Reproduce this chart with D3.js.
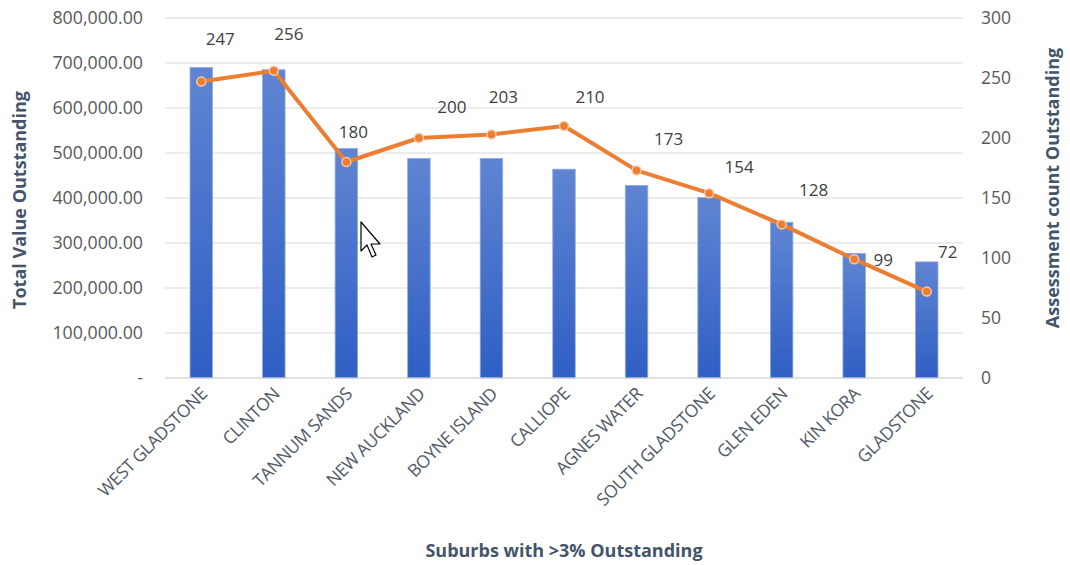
<!DOCTYPE html>
<html><head><meta charset="utf-8">
<script src="https://cdn.jsdelivr.net/npm/d3@7"></script>
<style>
body{margin:0;background:#fff;}
svg, svg text{font-family:"Open Sans","Liberation Sans",sans-serif;}
</style></head>
<body><svg id="c" width="1070" height="565"></svg>
<script>
const categories = ["WEST GLADSTONE","CLINTON","TANNUM SANDS","NEW AUCKLAND","BOYNE ISLAND","CALLIOPE","AGNES WATER","SOUTH GLADSTONE","GLEN EDEN","KIN KORA","GLADSTONE"];
const totalValue = [690000,685000,510000,488000,488000,464000,428000,401000,346000,277000,258000];
const assessCount = [247,256,180,200,203,210,173,154,128,99,72];
const leftTicks = [0,100000,200000,300000,400000,500000,600000,700000,800000];
const rightTicks = [0,50,100,150,200,250,300];
const labelOffsets = [[19,-43],[15,-37],[7,-30],[33,-31],[12,-37],[26,-29],[32,-31],[30,-26],[32,-34],[29,1],[21,-40]];

const svg = d3.select("#c");
const m = {l:165, r:963, t:18, b:378};
const x = d3.scaleBand().domain(categories).range([m.l, m.r]).paddingInner(0.69).paddingOuter(0.345);
const yL = d3.scaleLinear().domain([0,800000]).range([m.b, m.t]);
const yR = d3.scaleLinear().domain([0,300]).range([m.b, m.t]);
const cx = d => x(d) + x.bandwidth()/2;

const defs = svg.append("defs");
const g = defs.append("linearGradient").attr("id","bg").attr("x1",0).attr("y1",0).attr("x2",0).attr("y2",1);
g.append("stop").attr("offset","0%").attr("stop-color","#5f84d2");
g.append("stop").attr("offset","100%").attr("stop-color","#2f5fc4");

// gridlines
svg.append("g").selectAll("line").data(leftTicks).join("line")
  .attr("x1",m.l).attr("x2",m.r).attr("y1",d=>yL(d)).attr("y2",d=>yL(d))
  .attr("stroke","#d9d9d9").attr("stroke-width",1);

// left axis
const fmt = d => d===0 ? "-" : d3.format(",.2f")(d);
const la = svg.append("g").attr("transform",`translate(${m.l-22},0)`)
  .call(d3.axisLeft(yL).tickValues(leftTicks).tickFormat(fmt).tickSize(0).tickPadding(0));
la.attr("font-family",null);
la.select(".domain").remove();
la.selectAll("text").attr("fill","#595959").style("font-size","17.8px").attr("dy","0.32em");

const ra = svg.append("g").attr("transform",`translate(${m.r+18},0)`)
  .call(d3.axisRight(yR).tickValues(rightTicks).tickSize(0).tickPadding(0));
ra.attr("font-family",null);
ra.select(".domain").remove();
ra.selectAll("text").attr("fill","#595959").style("font-size","17.5px").attr("dy","0.32em");

// bars
svg.append("g").selectAll("rect").data(categories).join("rect")
  .attr("x",d=>x(d)).attr("width",x.bandwidth())
  .attr("y",(d,i)=>yL(totalValue[i])).attr("height",(d,i)=>yL(0)-yL(totalValue[i]))
  .attr("fill","url(#bg)").attr("stroke","#8fa9e0").attr("stroke-width",0.8);

// x axis
svg.append("line").attr("x1",m.l).attr("x2",m.r).attr("y1",m.b).attr("y2",m.b).attr("stroke","#d9d9d9");
const xa = svg.append("g").attr("transform",`translate(0,${m.b})`)
  .call(d3.axisBottom(x).tickSize(0).tickPadding(0));
xa.attr("font-family",null);
xa.select(".domain").remove();
xa.selectAll("text").attr("fill","#525a66").style("font-size","17.5px").style("letter-spacing","-0.4px")
  .attr("text-anchor","end").attr("dy","0").attr("transform","translate(7,17) rotate(-45)");

// line
const line = d3.line().x((d,i)=>cx(categories[i])).y(d=>yR(d));
svg.append("path").datum(assessCount).attr("d",line).attr("fill","none")
  .attr("stroke","#ed7d31").attr("stroke-width",4).attr("stroke-linejoin","round");
svg.append("g").selectAll("circle").data(assessCount).join("circle")
  .attr("cx",(d,i)=>cx(categories[i])).attr("cy",d=>yR(d)).attr("r",4.5)
  .attr("fill","#ed7d31").attr("stroke","#f6c9aa").attr("stroke-width",1.5);

// labels
svg.append("g").selectAll("text").data(assessCount).join("text")
  .attr("x",(d,i)=>cx(categories[i])+labelOffsets[i][0])
  .attr("y",(d,i)=>yR(d)+labelOffsets[i][1])
  .attr("dy","0.35em").attr("text-anchor","middle")
  .attr("fill","#404040").style("font-size","17px").text(d=>d);

// titles
svg.append("text").attr("x",564).attr("y",557).attr("text-anchor","middle")
  .attr("fill","#44546a").style("font-size","18px").style("font-weight","bold")
  .text("Suburbs with >3% Outstanding");
svg.append("text").attr("transform","translate(26,200) rotate(-90)").attr("text-anchor","middle")
  .attr("fill","#44546a").style("font-size","18px").style("font-weight","bold")
  .text("Total Value Outstanding");
svg.append("text").attr("transform","translate(1059,188) rotate(-90)").attr("text-anchor","middle")
  .attr("fill","#44546a").style("font-size","18px").style("font-weight","bold")
  .text("Assessment count Outstanding");

// mouse cursor
svg.append("path").attr("d","M361,222 L361,251 L367,245 L372,257 L376,255 L371,244 L380,244 Z")
  .attr("fill","#fff").attr("stroke","#000").attr("stroke-width",1.2).attr("stroke-linejoin","round");
</script></body></html>
